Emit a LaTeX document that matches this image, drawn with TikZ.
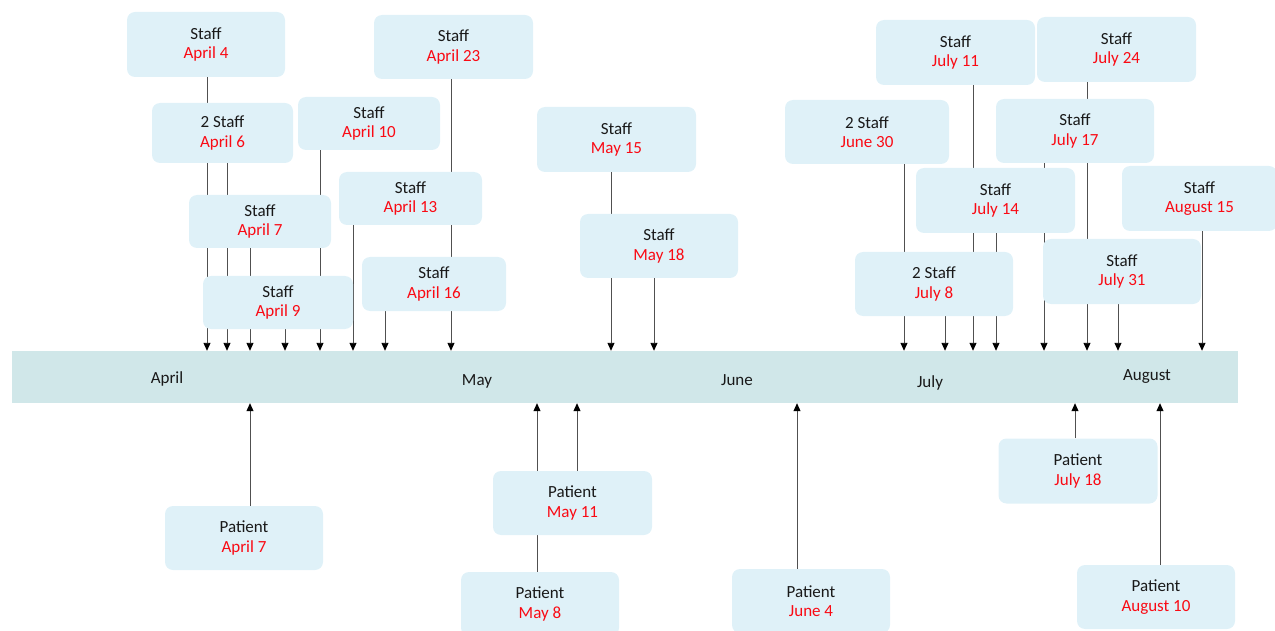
\documentclass[tikz,border=0pt]{standalone}
\usepackage{fontspec}
\setmainfont{Carlito}
\usetikzlibrary{arrows.meta}
\definecolor{boxfill}{RGB}{223,241,248}
\definecolor{barfill}{RGB}{208,231,233}
\definecolor{datered}{RGB}{250,10,20}
\definecolor{txt}{RGB}{25,25,25}
\definecolor{linec}{RGB}{80,80,80}
\pgfdeclarelayer{bg}
\pgfsetlayers{bg,main}
\tikzset{
  evbox/.style={fill=boxfill, draw=none, rounded corners=8pt, inner sep=0pt,
    align=center, text=txt, font=\fontsize{17}{19.5}\selectfont},
  bar/.style={fill=barfill, draw=none, inner sep=0pt},
  month/.style={text=txt, font=\fontsize{17}{19}\selectfont, inner sep=0pt},
  arr/.style={draw=linec, line width=0.9pt, -{Triangle[width=7pt,length=8pt,fill=black,color=black]}},
}
\newcommand{\ev}[2]{#1\\\textcolor{datered}{#2}}
\begin{document}
\begin{tikzpicture}[x=1pt,y=-1pt]
\useasboundingbox (0,0) rectangle (1275,631);
% timeline bar
\node[bar, minimum width=1226pt, minimum height=52pt] (bar) at (625,377) {};
\node[month] (mApr) at (167,379) {April};
\node[month] (mMay) at (477,381) {May};
\node[month] (mJun) at (737,380) {June};
\node[month] (mJul) at (930,383) {July};
\node[month] (mAug) at (1147,377) {August};
% staff boxes
\node[evbox, minimum width=158pt, minimum height=65pt] (s4) at (206,44.5) {\ev{Staff}{April 4}};
\node[evbox, minimum width=141pt, minimum height=60pt] (s6) at (222.5,133) {\ev{2 Staff}{April 6}};
\node[evbox, minimum width=142pt, minimum height=53pt] (s10) at (369,123.5) {\ev{Staff}{April 10}};
\node[evbox, minimum width=159pt, minimum height=64pt] (s23) at (453.5,47) {\ev{Staff}{April 23}};
\node[evbox, minimum width=142pt, minimum height=53pt] (s7) at (260,221.5) {\ev{Staff}{April 7}};
\node[evbox, minimum width=143pt, minimum height=53pt] (s13) at (410.5,198.5) {\ev{Staff}{April 13}};
\node[evbox, minimum width=150pt, minimum height=53pt] (s9) at (278,302.5) {\ev{Staff}{April 9}};
\node[evbox, minimum width=144pt, minimum height=54pt] (s16) at (434,284) {\ev{Staff}{April 16}};
\node[evbox, minimum width=159pt, minimum height=65pt] (s15m) at (616.5,139.5) {\ev{Staff}{May 15}};
\node[evbox, minimum width=158pt, minimum height=64pt] (s18m) at (659,246) {\ev{Staff}{May 18}};
\node[evbox, minimum width=164pt, minimum height=64pt] (j30) at (867,132) {\ev{2 Staff}{June 30}};
\node[evbox, minimum width=159pt, minimum height=65pt] (jl11) at (955.5,52.5) {\ev{Staff}{July 11}};
\node[evbox, minimum width=159pt, minimum height=65pt] (jl24) at (1116.5,49.5) {\ev{Staff}{July 24}};
\node[evbox, minimum width=158pt, minimum height=64pt] (jl17) at (1075,131) {\ev{Staff}{July 17}};
\node[evbox, minimum width=159pt, minimum height=65pt] (jl14) at (995.5,200.5) {\ev{Staff}{July 14}};
\node[evbox, minimum width=155pt, minimum height=65pt] (au15) at (1199.5,198.5) {\ev{Staff}{August 15}};
\node[evbox, minimum width=158pt, minimum height=64pt] (jl8) at (934,284) {\ev{2 Staff}{July 8}};
\node[evbox, minimum width=158pt, minimum height=65pt] (jl31) at (1122,271.5) {\ev{Staff}{July 31}};
% patient boxes
\node[evbox, minimum width=158pt, minimum height=64pt] (pa7) at (244,538) {\ev{Patient}{April 7}};
\node[evbox, minimum width=159pt, minimum height=64pt] (pm11) at (572.5,503) {\ev{Patient}{May 11}};
\node[evbox, minimum width=158pt, minimum height=64pt] (pm8) at (540,604) {\ev{Patient}{May 8}};
\node[evbox, minimum width=158pt, minimum height=64pt] (pj4) at (811,601) {\ev{Patient}{June 4}};
\node[evbox, minimum width=159pt, minimum height=65pt] (pjl18) at (1078,471) {\ev{Patient}{July 18}};
\node[evbox, minimum width=158pt, minimum height=64pt] (pau10) at (1156,597) {\ev{Patient}{August 10}};
% connectors (behind boxes)
\begin{pgfonlayer}{bg}
\foreach \xx/\src in {207/s4, 227/s6, 250/s7, 285/s9, 320/s10, 353/s13, 385/s16, 451/s23,
  611/s15m, 654/s18m, 904/j30, 945/jl8, 973/jl11, 996/jl14, 1044/jl17, 1087/jl24, 1118/jl31, 1202/au15}
  \draw[arr] (\xx,0 |- \src.south) -- (\xx,0 |- bar.north);
\foreach \xx/\src in {250/pa7, 537/pm8, 577/pm11, 797/pj4, 1075/pjl18, 1160/pau10}
  \draw[arr] (\xx,0 |- \src.north) -- (\xx,0 |- bar.south);
\end{pgfonlayer}
\end{tikzpicture}
\end{document}
